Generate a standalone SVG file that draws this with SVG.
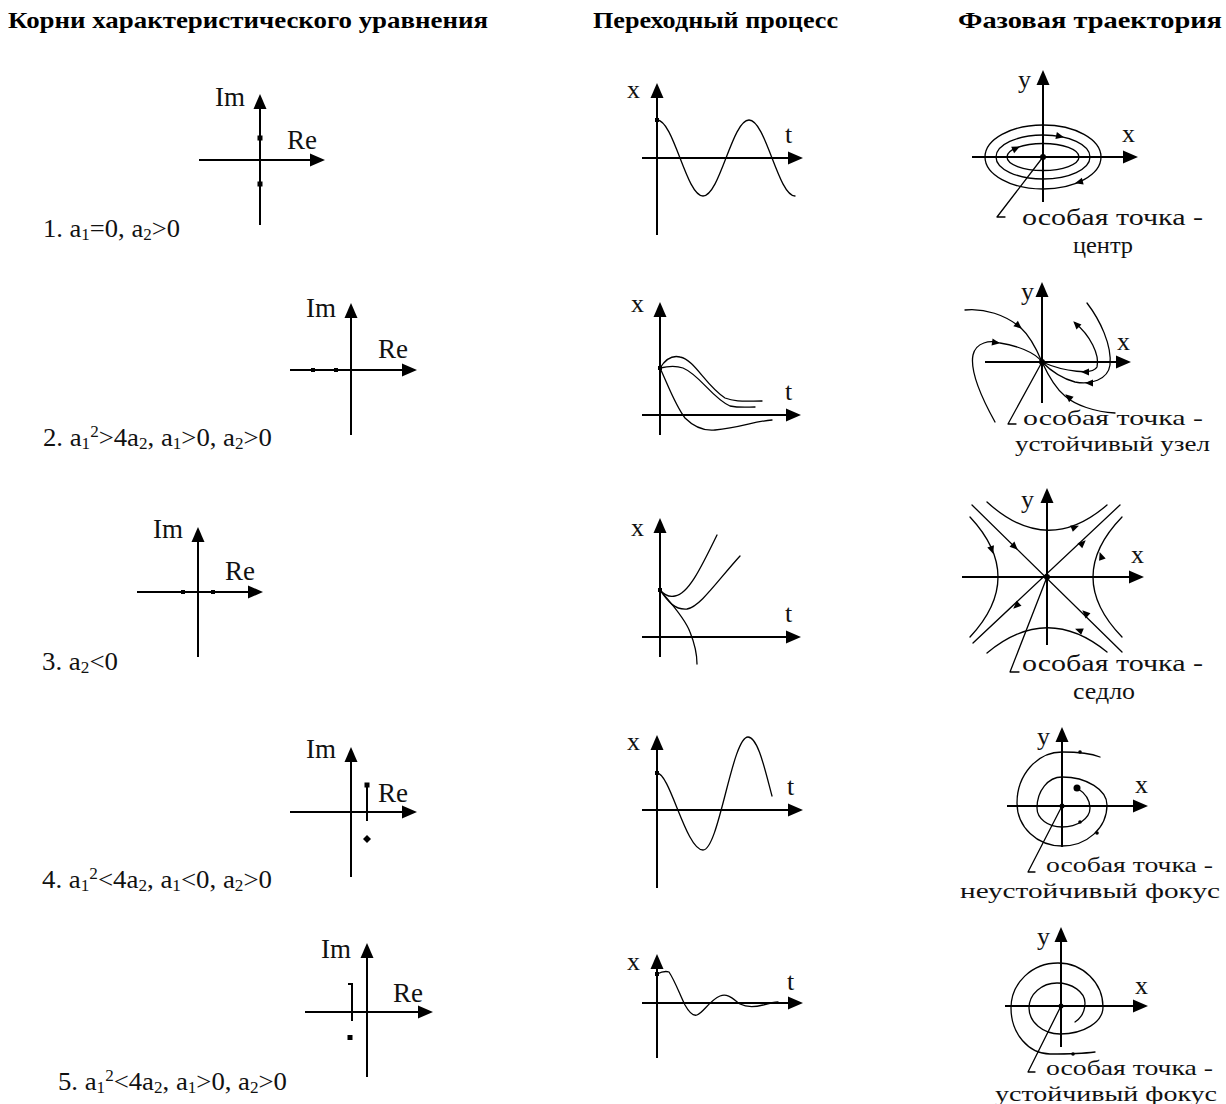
<svg xmlns="http://www.w3.org/2000/svg" xmlns:xlink="http://www.w3.org/1999/xlink" width="1226" height="1104" viewBox="0 0 1226 1104" font-family="'Liberation Serif', 'Times New Roman', Times, serif">
<style>
.ax{stroke:#000;stroke-width:2;fill:none}
.cv{stroke:#000;stroke-width:1.3;fill:none;stroke-linecap:round;stroke-linejoin:round}
text{font-family:'Liberation Serif','Times New Roman',Times,serif;fill:#111}
.hd{font-weight:bold;font-size:24px;fill:#000}
.lb{font-size:25px}
.sb{font-size:16px}
.ir{font-size:27px}
.xl{font-size:26px}
.ph{font-size:24px}
.ps{font-size:22px}
.fill{fill:#000}
</style>
<defs>
<path id="axh" d="M0,0 L-15,-6.5 L-15,6.5 Z" fill="#000"/>
<path id="ah" d="M1,0 L-7,-3.5 L-7,3.5 Z" fill="#000"/>
</defs>
<rect width="1226" height="1104" fill="#fff"/>

<g id="headers">
<text class="hd" x="8" y="28" textLength="480" lengthAdjust="spacingAndGlyphs">Корни характеристического уравнения</text>
<text class="hd" x="593" y="28" textLength="245" lengthAdjust="spacingAndGlyphs">Переходный процесс</text>
<text class="hd" x="958" y="28" textLength="264" lengthAdjust="spacingAndGlyphs">Фазовая траектория</text>
</g>

<g id="roots1">
<line class="ax" x1="260" y1="225" x2="260" y2="100"/><use xlink:href="#axh" transform="translate(260,94) rotate(-90)"/>
<line class="ax" x1="199" y1="160" x2="318" y2="160"/><use xlink:href="#axh" transform="translate(325,160)"/>
<rect class="fill" x="257.5" y="135.5" width="5" height="5"/><rect class="fill" x="257.5" y="181.5" width="5" height="5"/>
<text class="ir" x="215" y="106">Im</text><text class="ir" x="287" y="149">Re</text>
<text class="lb" x="43" y="237" textLength="137" lengthAdjust="spacingAndGlyphs">1. a<tspan class="sb" dy="3">1</tspan><tspan dy="-3">=0, a</tspan><tspan class="sb" dy="3">2</tspan><tspan dy="-3">&gt;0</tspan></text>
</g>

<g id="roots2">
<line class="ax" x1="351" y1="435" x2="351" y2="309"/><use xlink:href="#axh" transform="translate(351,303) rotate(-90)"/>
<line class="ax" x1="290" y1="370" x2="410" y2="370"/><use xlink:href="#axh" transform="translate(417,370)"/>
<rect class="fill" x="311" y="368" width="4" height="4"/><rect class="fill" x="334" y="368" width="4" height="4"/>
<text class="ir" x="306" y="317">Im</text><text class="ir" x="378" y="358">Re</text>
<text class="lb" x="43" y="446" textLength="229" lengthAdjust="spacingAndGlyphs">2. a<tspan class="sb" dy="3">1</tspan><tspan class="sb" dy="-12">2</tspan><tspan dy="9">&gt;4a</tspan><tspan class="sb" dy="3">2</tspan><tspan dy="-3">, a</tspan><tspan class="sb" dy="3">1</tspan><tspan dy="-3">&gt;0, a</tspan><tspan class="sb" dy="3">2</tspan><tspan dy="-3">&gt;0</tspan></text>
</g>

<g id="roots3">
<line class="ax" x1="198" y1="657" x2="198" y2="533"/><use xlink:href="#axh" transform="translate(198,527) rotate(-90)"/>
<line class="ax" x1="137" y1="592" x2="256" y2="592"/><use xlink:href="#axh" transform="translate(263,592)"/>
<rect class="fill" x="181" y="590" width="4" height="4"/><rect class="fill" x="211" y="590" width="4" height="4"/>
<text class="ir" x="153" y="538">Im</text><text class="ir" x="225" y="580">Re</text>
<text class="lb" x="42" y="670" textLength="76" lengthAdjust="spacingAndGlyphs">3. a<tspan class="sb" dy="3">2</tspan><tspan dy="-3">&lt;0</tspan></text>
</g>

<g id="roots4">
<line class="ax" x1="351" y1="877" x2="351" y2="753"/><use xlink:href="#axh" transform="translate(351,747) rotate(-90)"/>
<line class="ax" x1="290" y1="812" x2="410" y2="812"/><use xlink:href="#axh" transform="translate(417,812)"/>
<rect class="fill" x="364.5" y="782.5" width="5" height="5"/><line class="ax" x1="367" y1="785" x2="367" y2="821"/>
<path class="fill" d="M367,835 L371,839 L367,843 L363,839 Z"/>
<text class="ir" x="306" y="758">Im</text><text class="ir" x="378" y="802">Re</text>
<text class="lb" x="42" y="888" textLength="230" lengthAdjust="spacingAndGlyphs">4. a<tspan class="sb" dy="3">1</tspan><tspan class="sb" dy="-12">2</tspan><tspan dy="9">&lt;4a</tspan><tspan class="sb" dy="3">2</tspan><tspan dy="-3">, a</tspan><tspan class="sb" dy="3">1</tspan><tspan dy="-3">&lt;0, a</tspan><tspan class="sb" dy="3">2</tspan><tspan dy="-3">&gt;0</tspan></text>
</g>

<g id="roots5">
<line class="ax" x1="367" y1="1077" x2="367" y2="949"/><use xlink:href="#axh" transform="translate(367,943) rotate(-90)"/>
<line class="ax" x1="305" y1="1012" x2="426" y2="1012"/><use xlink:href="#axh" transform="translate(433,1012)"/>
<path class="ax" d="M348,984 L352,984 L352,1021"/>
<rect class="fill" x="347.5" y="1035" width="5" height="5"/>
<text class="ir" x="321" y="958">Im</text><text class="ir" x="393" y="1002">Re</text>
<text class="lb" x="58" y="1090" textLength="229" lengthAdjust="spacingAndGlyphs">5. a<tspan class="sb" dy="3">1</tspan><tspan class="sb" dy="-12">2</tspan><tspan dy="9">&lt;4a</tspan><tspan class="sb" dy="3">2</tspan><tspan dy="-3">, a</tspan><tspan class="sb" dy="3">1</tspan><tspan dy="-3">&gt;0, a</tspan><tspan class="sb" dy="3">2</tspan><tspan dy="-3">&gt;0</tspan></text>
</g>

<g id="trans1">
<line class="ax" x1="657" y1="235" x2="657" y2="89"/><use xlink:href="#axh" transform="translate(657,83) rotate(-90)"/>
<line class="ax" x1="642" y1="158" x2="796" y2="158"/><use xlink:href="#axh" transform="translate(803,158)"/>
<text class="xl" x="627" y="98">x</text><text class="xl" x="785" y="143">t</text>
<rect class="fill" x="655" y="118" width="4" height="4"/>
<path class="cv" d="M657,120 C673.8,120 686.2,196 703,196 C719.8,196 732.2,120 749,120 C765.8,120 778.2,196 795,196"/>
</g>

<g id="trans2">
<line class="ax" x1="660" y1="435" x2="660" y2="308"/><use xlink:href="#axh" transform="translate(660,302) rotate(-90)"/>
<line class="ax" x1="642" y1="415" x2="794" y2="415"/><use xlink:href="#axh" transform="translate(801,415)"/>
<text class="xl" x="631" y="312">x</text><text class="xl" x="785" y="400">t</text>
<rect class="fill" x="658" y="366" width="4" height="4"/>
<path class="cv" d="M660,368 C665,360 672,355 680,357 C695,360 705,385 725,398 C735,402 745,401 762,401"/>
<path class="cv" d="M660,368 C668,366 675,365 683,368 C700,375 712,398 730,406 C740,408 748,407 755,407"/>
<path class="cv" d="M660,368 C668,385 675,405 685,418 C695,428 705,431 715,430 C740,428 755,421 772,420"/>
</g>

<g id="trans3">
<line class="ax" x1="660" y1="657" x2="660" y2="524"/><use xlink:href="#axh" transform="translate(660,518) rotate(-90)"/>
<line class="ax" x1="642" y1="637" x2="794" y2="637"/><use xlink:href="#axh" transform="translate(801,637)"/>
<text class="xl" x="631" y="536">x</text><text class="xl" x="785" y="622">t</text>
<rect class="fill" x="658" y="588" width="4" height="4"/>
<path class="cv" d="M660,590 C665,596 670,597 675,596 C688,594 700,570 717,535"/>
<path class="cv" d="M660,590 C668,602 675,610 687,609 C700,607 718,580 740,556"/>
<path class="cv" d="M660,590 C670,602 685,618 690,632 C694,642 697,652 697,664"/>
</g>

<g id="trans4">
<line class="ax" x1="657" y1="888" x2="657" y2="741"/><use xlink:href="#axh" transform="translate(657,735) rotate(-90)"/>
<line class="ax" x1="642" y1="810" x2="796" y2="810"/><use xlink:href="#axh" transform="translate(803,810)"/>
<text class="xl" x="627" y="750">x</text><text class="xl" x="787" y="795">t</text>
<rect class="fill" x="655" y="771" width="4" height="4"/>
<path class="cv" d="M657,773 C670,773 686,850 703,850 C719,850 732,737 748,737 C758,737 765,770 772,796"/>
</g>

<g id="trans5">
<line class="ax" x1="657" y1="1058" x2="657" y2="960"/><use xlink:href="#axh" transform="translate(657,954) rotate(-90)"/>
<line class="ax" x1="642" y1="1003" x2="796" y2="1003"/><use xlink:href="#axh" transform="translate(803,1003)"/>
<text class="xl" x="627" y="970">x</text><text class="xl" x="787" y="990">t</text>
<rect class="fill" x="655" y="972" width="4" height="4"/>
<path class="cv" d="M657,974 C663,971 666,971 669,972 C675,981 680,995 685,1005 C690,1014 694,1016 697,1015 C703,1013 710,1000 720,996 C728,993 733,999 740,1004 C748,1008 755,1007 763,1005 C770,1003 775,1002 778,1002"/>
</g>

<g id="phase1">
<line class="ax" x1="1043" y1="202" x2="1043" y2="76"/><use xlink:href="#axh" transform="translate(1043,70) rotate(-90)"/>
<line class="ax" x1="972" y1="157" x2="1131" y2="157"/><use xlink:href="#axh" transform="translate(1138,157)"/>
<text class="xl" x="1018" y="88">y</text><text class="xl" x="1122" y="142">x</text>
<ellipse class="cv" cx="1043" cy="157" rx="58" ry="32"/>
<ellipse class="cv" cx="1043" cy="157" rx="47" ry="22"/>
<ellipse class="cv" cx="1043" cy="157" rx="36" ry="13.5"/>
<use xlink:href="#ah" transform="translate(1063,137) rotate(12)"/>
<use xlink:href="#ah" transform="translate(1019,147) rotate(-25)"/>
<use xlink:href="#ah" transform="translate(1076,183) rotate(165)"/>
<circle class="fill" cx="1043" cy="157" r="3"/>
<path class="cv" d="M1043,157 L997,217 L1005,217"/>
<text class="ph" x="1022" y="225" textLength="181" lengthAdjust="spacingAndGlyphs">особая точка -</text>
<text class="ph" x="1073" y="253" textLength="60" lengthAdjust="spacingAndGlyphs">центр</text>
</g>

<g id="phase2">
<line class="ax" x1="1042" y1="403" x2="1042" y2="288"/><use xlink:href="#axh" transform="translate(1042,282) rotate(-90)"/>
<line class="ax" x1="985" y1="362" x2="1124" y2="362"/><use xlink:href="#axh" transform="translate(1131,362)"/>
<text class="xl" x="1021" y="300">y</text><text class="xl" x="1117" y="350">x</text>
<path class="cv" d="M965,310 C985,308 1005,315 1020,327 C1030,336 1037,350 1042,362"/>
<use xlink:href="#ah" transform="translate(1021,328) rotate(40)"/>
<path class="cv" d="M995,422 C980,395 970,370 973,355 C976,342 990,340 1000,343 C1015,345 1035,352 1042,362"/>
<use xlink:href="#ah" transform="translate(999,343) rotate(8)"/>
<path class="cv" d="M1075,323 C1090,335 1100,355 1097,367 C1093,375 1065,372 1042,362"/>
<use xlink:href="#ah" transform="translate(1074,322) rotate(-135)"/>
<use xlink:href="#ah" transform="translate(1082,372) rotate(180)"/>
<path class="cv" d="M1087,303 C1100,320 1112,345 1110,365 C1108,380 1090,385 1075,382 C1060,378 1050,370 1042,362"/>
<use xlink:href="#ah" transform="translate(1086,383) rotate(180)"/>
<path class="cv" d="M1115,413 C1095,412 1075,405 1065,396 C1055,388 1048,375 1042,362"/>
<use xlink:href="#ah" transform="translate(1066,395) rotate(-140)"/>
<circle class="fill" cx="1042" cy="362" r="3"/>
<path class="cv" d="M1042,362 L1008,424 L1016,424"/>
<text class="ps" x="1023" y="425" textLength="180" lengthAdjust="spacingAndGlyphs">особая точка -</text>
<text class="ps" x="1015" y="451" textLength="195" lengthAdjust="spacingAndGlyphs">устойчивый узел</text>
</g>

<g id="phase3">
<line class="ax" x1="1047" y1="645" x2="1047" y2="494"/><use xlink:href="#axh" transform="translate(1047,488) rotate(-90)"/>
<line class="ax" x1="962" y1="577" x2="1137" y2="577"/><use xlink:href="#axh" transform="translate(1144,577)"/>
<text class="xl" x="1021" y="508">y</text><text class="xl" x="1131" y="563">x</text>
<line class="cv" x1="972" y1="505" x2="1122" y2="652"/>
<line class="cv" x1="973" y1="643" x2="1120" y2="505"/>
<use xlink:href="#ah" transform="translate(1017,549) rotate(44)"/>
<use xlink:href="#ah" transform="translate(1083,611) rotate(-136)"/>
<use xlink:href="#ah" transform="translate(1014,608) rotate(137)"/>
<use xlink:href="#ah" transform="translate(1085,541) rotate(-43)"/>
<path class="cv" d="M987,502 Q1047,557 1107,505"/>
<use xlink:href="#ah" transform="translate(1078,526) rotate(-22)"/>
<path class="cv" d="M987,653 Q1047,603 1107,652"/>
<use xlink:href="#ah" transform="translate(1076,629) rotate(-158)"/>
<path class="cv" d="M970,517 Q1026,577 970,637"/>
<use xlink:href="#ah" transform="translate(993,553) rotate(70)"/>
<path class="cv" d="M1122,517 Q1064,577 1122,637"/>
<use xlink:href="#ah" transform="translate(1100,553) rotate(-110)"/>
<circle class="fill" cx="1047" cy="577" r="3"/>
<path class="cv" d="M1047,577 L1010,672 L1019,672"/>
<text class="ph" x="1022" y="671" textLength="181" lengthAdjust="spacingAndGlyphs">особая точка -</text>
<text class="ph" x="1073" y="699" textLength="62" lengthAdjust="spacingAndGlyphs">седло</text>
</g>

<g id="phase4">
<line class="ax" x1="1062" y1="847" x2="1062" y2="733"/><use xlink:href="#axh" transform="translate(1062,727) rotate(-90)"/>
<line class="ax" x1="1007" y1="806" x2="1141" y2="806"/><use xlink:href="#axh" transform="translate(1148,806)"/>
<text class="xl" x="1037" y="745">y</text><text class="xl" x="1135" y="793">x</text>
<path class="cv" d="M1077,788 C1085,793 1090,800 1090,808 C1090,818.5 1077.5,827 1062,827 C1048,827 1037,818.5 1037,808 C1037,791 1048,777 1062,777 C1087,777 1107,790 1107,805 C1107,828 1087,846 1062,846 C1037,846 1017,827 1017,803 C1017,775 1037,752 1062,752 C1078,752 1090,753 1100,757"/>
<circle class="fill" cx="1077" cy="788" r="3.5"/>
<circle class="fill" cx="1080" cy="822" r="1.8"/>
<circle class="fill" cx="1097" cy="833" r="1.8"/>
<circle class="fill" cx="1080" cy="752" r="1.8"/>
<circle class="fill" cx="1062" cy="806" r="2.5"/>
<path class="cv" d="M1062,806 L1028,872 L1035,872"/>
<text class="ps" x="1046" y="872" textLength="167" lengthAdjust="spacingAndGlyphs">особая точка -</text>
<text class="ps" x="960" y="898" textLength="260" lengthAdjust="spacingAndGlyphs">неустойчивый фокус</text>
</g>

<g id="phase5">
<line class="ax" x1="1061" y1="1047" x2="1061" y2="933"/><use xlink:href="#axh" transform="translate(1061,927) rotate(-90)"/>
<line class="ax" x1="1005" y1="1006" x2="1141" y2="1006"/><use xlink:href="#axh" transform="translate(1148,1006)"/>
<text class="xl" x="1037" y="945">y</text><text class="xl" x="1135" y="994">x</text>
<path class="cv" d="M1095,1052 C1080,1054 1065,1054 1050,1054 C1028.5,1054 1011,1033.4 1011,1008 C1011,983 1032,963 1058,963 C1083,963 1103,983 1103,1007 C1103,1022 1084,1034 1060,1034 C1043,1034 1029,1022 1029,1008 C1029,994 1042,983 1057,983 C1072,983 1085,992 1085,1003 C1085,1012 1081,1018 1075,1022"/>
<circle class="fill" cx="1073" cy="1054" r="1.8"/>
<circle class="fill" cx="1061" cy="1006" r="2.5"/>
<path class="cv" d="M1061,1006 L1028,1072 L1035,1072"/>
<text class="ps" x="1046" y="1075" textLength="167" lengthAdjust="spacingAndGlyphs">особая точка -</text>
<text class="ps" x="995" y="1101" textLength="222" lengthAdjust="spacingAndGlyphs">устойчивый фокус</text>
</g>
</svg>
